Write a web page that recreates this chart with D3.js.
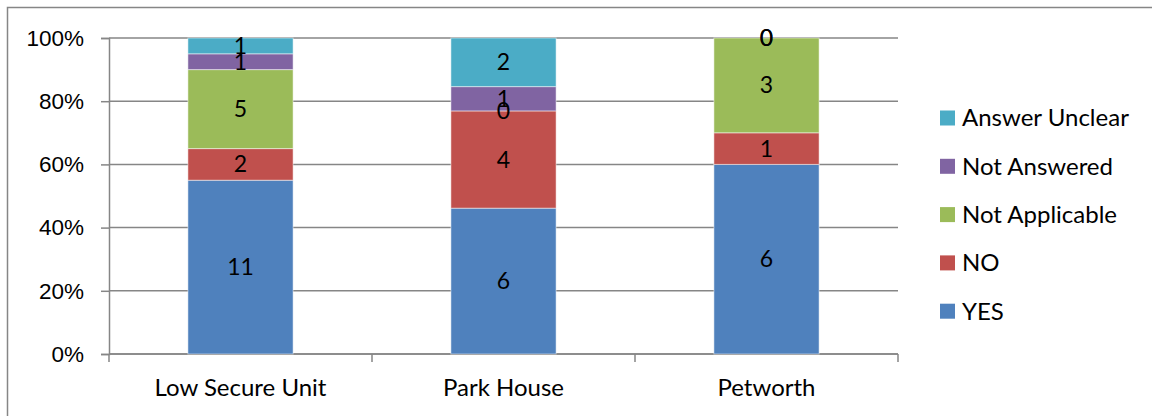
<!DOCTYPE html>
<html>
<head>
<meta charset="utf-8">
<script src="https://cdn.jsdelivr.net/npm/d3@7"></script>
<style>
  body { margin: 0; background: #fff; }
  svg { display: block; font-family: Lato, "Open Sans", sans-serif; }
</style>
</head>
<body>
<svg id="chart" width="1152" height="416"></svg>
<script>
// chart data
const categories = ["Low Secure Unit", "Park House", "Petworth"];
const seriesNames = ["YES", "NO", "Not Applicable", "Not Answered", "Answer Unclear"];
const yesValues = [11, 6, 6];
const noValues = [2, 4, 1];
const notApplicableValues = [5, 0, 3];
const notAnsweredValues = [1, 1, 0];
const unclearValues = [1, 2, 0];
const yTicks = [0, 0.2, 0.4, 0.6, 0.8, 1];

const colors = ["#4F81BD", "#C0504D", "#9BBB59", "#8064A2", "#4BACC6"];
const allValues = [yesValues, noValues, notApplicableValues, notAnsweredValues, unclearValues];

// build rows for the stack
const rows = categories.map((c, i) => {
    const row = { category: c };
    seriesNames.forEach((s, j) => { row[s] = allValues[j][i]; });
    return row;
});

const svg = d3.select("#chart");

// outer frame (only top and left edges are visible in the picture)
svg.append("rect")
    .attr("x", 7.5).attr("y", 7.5)
    .attr("width", 1200).attr("height", 500)
    .attr("fill", "none")
    .attr("stroke", "#868686")
    .attr("stroke-width", 1.5);

const plotLeft = 109, plotRight = 898, plotTop = 38, plotBottom = 354;

const x = d3.scaleBand()
    .domain(categories)
    .range([plotLeft, plotRight])
    .paddingInner(0.6)
    .paddingOuter(0.3);

// band for ticks between categories
const xOuter = d3.scaleBand().domain(categories).range([plotLeft, plotRight]);

const y = d3.scaleLinear().domain([0, 1]).range([plotBottom, plotTop]);

const stack = d3.stack()
    .keys(seriesNames)
    .offset(d3.stackOffsetExpand);
const layers = stack(rows);

// gridlines
svg.append("g")
    .selectAll("line")
    .data(yTicks)
    .join("line")
    .attr("x1", plotLeft).attr("x2", plotRight)
    .attr("y1", d => y(d)).attr("y2", d => y(d))
    .attr("stroke", "#868686")
    .attr("stroke-width", 1.5);

// y axis
const yAxis = d3.axisLeft(y)
    .tickValues(yTicks)
    .tickFormat(d3.format(".0%"))
    .tickSize(8)
    .tickPadding(17);
const gy = svg.append("g")
    .attr("transform", `translate(${plotLeft},0)`)
    .call(yAxis);
gy.select(".domain").attr("stroke", "#868686").attr("stroke-width", 1.5);
gy.selectAll(".tick line").attr("stroke", "#868686").attr("stroke-width", 1.5);
gy.selectAll("text").style("font-size", "22.5px").attr("fill", "#000");

// x axis with ticks between categories
const gx = svg.append("g")
    .attr("transform", `translate(0,${plotBottom})`);
gx.append("line")
    .attr("x1", plotLeft).attr("x2", plotRight)
    .attr("stroke", "#868686").attr("stroke-width", 1.5);
const edges = categories.map(c => xOuter(c)).concat([plotRight]);
gx.selectAll("line.tk")
    .data(edges)
    .join("line")
    .attr("class", "tk")
    .attr("x1", d => d).attr("x2", d => d)
    .attr("y1", 0).attr("y2", 8)
    .attr("stroke", "#868686").attr("stroke-width", 1.5);
gx.selectAll("text")
    .data(categories)
    .join("text")
    .attr("x", d => x(d) + x.bandwidth() / 2)
    .attr("y", 42)
    .attr("text-anchor", "middle")
    .style("font-size", "24px")
    .text(d => d);

// bars
const layerG = svg.append("g")
    .selectAll("g")
    .data(layers)
    .join("g")
    .attr("fill", (d, i) => colors[i]);

layerG.selectAll("rect")
    .data(d => d)
    .join("rect")
    .attr("x", d => x(d.data.category))
    .attr("width", x.bandwidth())
    .attr("y", d => y(d[1]))
    .attr("height", d => y(d[0]) - y(d[1]))
    .attr("stroke", "rgba(255,255,255,0.5)")
    .attr("stroke-width", 1);

// value labels (Excel lets the small ones overlap, kept the same here)
layers.forEach((layer, i) => {
    svg.append("g")
        .selectAll("text")
        .data(layer)
        .join("text")
        .attr("x", d => x(d.data.category) + x.bandwidth() / 2)
        .attr("y", d => y((d[0] + d[1]) / 2))
        .attr("dy", "0.35em")
        .attr("text-anchor", "middle")
        .style("font-size", "23px")
        .attr("fill", "#000")
        .text(d => d.data[layer.key]);
});

// legend (reversed order, top is Answer Unclear)
const legendItems = seriesNames.map((s, i) => ({ name: s, color: colors[i] })).reverse();
const legend = svg.append("g")
    .selectAll("g")
    .data(legendItems)
    .join("g")
    .attr("transform", (d, i) => `translate(940,${118 + i * 48.3})`);
legend.append("rect")
    .attr("x", 0).attr("y", -7.5)
    .attr("width", 15).attr("height", 15)
    .attr("fill", d => d.color);
legend.append("text")
    .attr("x", 22)
    .attr("dy", "0.35em")
    .style("font-size", "24px")
    .text(d => d.name);
</script>
</body>
</html>
